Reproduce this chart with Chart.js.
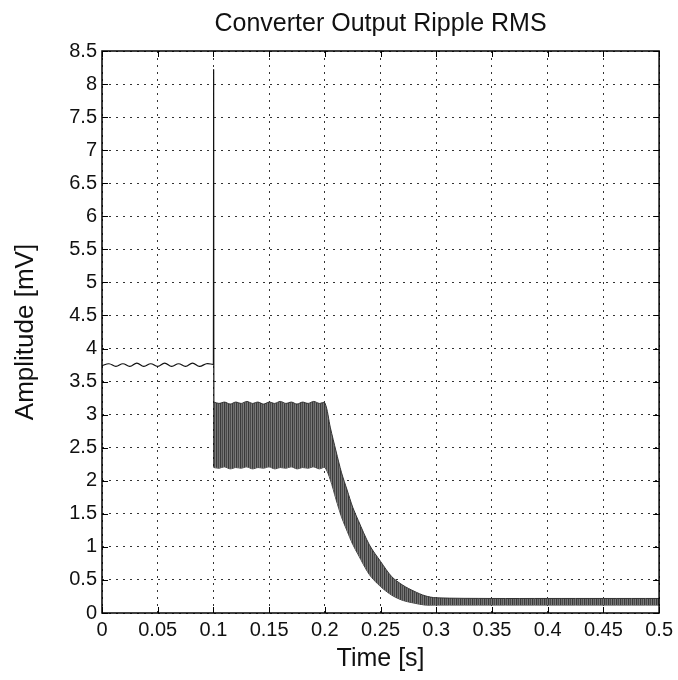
<!DOCTYPE html>
<html>
<head>
<meta charset="utf-8">
<script src="https://cdn.jsdelivr.net/npm/chart.js@4.4.1/dist/chart.umd.min.js"></script>
<style>
  body { margin: 0; background: #fff; }
  #wrap { width: 678px; height: 680px; }
</style>
</head>
<body>
<div id="wrap"><canvas id="chartId" width="678" height="680"></canvas></div>
<script>
// thin trace before the load step, plus the spike at t = 0.1 s
var traceT = [0, 0.00625, 0.0125, 0.01875, 0.025, 0.03125, 0.0375, 0.04375, 0.05, 0.05625,
              0.0625, 0.06875, 0.075, 0.08125, 0.0875, 0.09375, 0.0998, 0.1, 0.1002, 0.1004]
var traceV = [3.74, 3.77, 3.73, 3.77, 3.73, 3.78, 3.73, 3.77, 3.73, 3.78,
              3.73, 3.77, 3.73, 3.78, 3.73, 3.77, 3.76, 3.76, 8.2, 2.2]

// ripple band after the step (upper / lower envelope)
var bandT = [0.1004, 0.105, 0.11, 0.115, 0.12, 0.125, 0.13, 0.135, 0.14, 0.145, 0.15,
             0.155, 0.16, 0.165, 0.17, 0.175, 0.18, 0.185, 0.19, 0.195, 0.2,
             0.205, 0.21, 0.215, 0.22, 0.225, 0.23, 0.24, 0.25, 0.26, 0.27, 0.28, 0.29,
             0.3, 0.35, 0.4, 0.45, 0.5]
var bandUpper = [3.19, 3.17, 3.19, 3.16, 3.19, 3.17, 3.2, 3.17, 3.19, 3.16, 3.19,
                 3.17, 3.2, 3.17, 3.19, 3.16, 3.19, 3.17, 3.2, 3.17, 3.18,
                 2.8, 2.45, 2.12, 1.86, 1.6, 1.4, 1.03, 0.78, 0.55, 0.42, 0.33, 0.26,
                 0.23, 0.22, 0.22, 0.22, 0.22]
var bandLower = [2.2, 2.19, 2.21, 2.18, 2.2, 2.19, 2.21, 2.18, 2.2, 2.19, 2.21,
                 2.18, 2.2, 2.19, 2.21, 2.18, 2.2, 2.19, 2.21, 2.18, 2.2,
                 2.01, 1.72, 1.45, 1.24, 1.04, 0.88, 0.58, 0.4, 0.27, 0.19, 0.15, 0.12,
                 0.12, 0.12, 0.12, 0.12, 0.12]

var yTicks = [0, 0.5, 1, 1.5, 2, 2.5, 3, 3.5, 4, 4.5, 5, 5.5, 6, 6.5, 7, 7.5, 8, 8.5]
var xTicks = [0, 0.05, 0.1, 0.15, 0.2, 0.25, 0.3, 0.35, 0.4, 0.45, 0.5]

function pts(xs, ys) { return xs.map((x, i) => ({ x: x, y: ys[i] })) }

// vertical hatch for the dense ripple
var pc = document.createElement('canvas')
pc.width = 4; pc.height = 1
var pctx = pc.getContext('2d')
pctx.fillStyle = '#3a3a3a'; pctx.fillRect(0, 0, 1, 1)
pctx.fillStyle = '#6e6e6e'; pctx.fillRect(1, 0, 1, 1)
pctx.fillStyle = '#4a4a4a'; pctx.fillRect(2, 0, 1, 1)
pctx.fillStyle = '#7a7a7a'; pctx.fillRect(3, 0, 1, 1)
var chrt = document.getElementById("chartId").getContext("2d")
var hatch = chrt.createPattern(pc, 'repeat')

var FONT = "'Liberation Sans', Arial, Helvetica, sans-serif"

// matlab style box + inward ticks
var boxPlugin = {
  id: 'box',
  afterDraw(chart) {
    var a = chart.chartArea, c = chart.ctx
    var xs = chart.scales.x, ys = chart.scales.y
    c.save()
    c.strokeStyle = '#000'
    c.lineWidth = 1
    c.beginPath()
    xTicks.forEach(v => {
      var px = Math.round(xs.getPixelForValue(v)) + 0.5
      c.moveTo(px, a.bottom); c.lineTo(px, a.bottom - 6)
      c.moveTo(px, a.top); c.lineTo(px, a.top + 6)
    })
    yTicks.forEach(v => {
      var py = Math.round(ys.getPixelForValue(v)) + 0.5
      c.moveTo(a.left, py); c.lineTo(a.left + 6, py)
      c.moveTo(a.right, py); c.lineTo(a.right - 6, py)
    })
    c.stroke()
    c.lineWidth = 1.5
    c.strokeRect(a.left, a.top, a.right - a.left, a.bottom - a.top)
    c.restore()
  }
}

var chart = new Chart(chrt, {
  type: 'line',
  data: {
    datasets: [{
      label: 'upper',
      data: pts(bandT, bandUpper),
      borderColor: '#333',
      borderWidth: 1,
      backgroundColor: hatch,
      fill: '+1',
      pointRadius: 0,
      tension: 0.3
    }, {
      label: 'lower',
      data: pts(bandT, bandLower),
      borderColor: '#444',
      borderWidth: 1,
      fill: false,
      pointRadius: 0,
      tension: 0.3
    }, {
      label: 'ripple',
      data: pts(traceT, traceV),
      borderColor: '#111',
      borderWidth: 1.2,
      fill: false,
      pointRadius: 0,
      tension: 0.4
    }]
  },
  options: {
    responsive: false,
    animation: false,
    layout: { padding: { left: 0, right: 16, top: 0, bottom: 0 } },
    plugins: {
      legend: { display: false },
      tooltip: { enabled: false },
      title: {
        display: true,
        text: 'Converter Output Ripple RMS',
        fullSize: false,
        color: '#111',
        font: { family: FONT, size: 25, weight: 'normal' },
        padding: { top: 9, bottom: 12 }
      }
    },
    scales: {
      x: {
        type: 'linear',
        min: 0, max: 0.5,
        afterFit: s => { s.height = 67 },
        afterBuildTicks: s => { s.ticks = xTicks.map(v => ({ value: v })) },
        ticks: {
          autoSkip: false, maxRotation: 0, padding: 5, color: '#111',
          font: { family: FONT, size: 20 },
          callback: v => String(+v.toFixed(2))
        },
        grid: { color: '#333', lineWidth: 1, drawTicks: false },
        border: { display: false, dash: [2, 5] },
        title: {
          display: true, text: 'Time [s]', color: '#111',
          font: { family: FONT, size: 25 },
          padding: { top: 0, bottom: 6 }
        }
      },
      y: {
        type: 'linear',
        min: 0, max: 8.5,
        afterFit: s => { s.width = 102 },
        afterBuildTicks: s => { s.ticks = yTicks.map(v => ({ value: v })) },
        ticks: {
          autoSkip: false, padding: 5, color: '#111',
          font: { family: FONT, size: 20 },
          callback: v => String(+v.toFixed(2))
        },
        grid: { color: '#333', lineWidth: 1, drawTicks: false },
        border: { display: false, dash: [2, 5] },
        title: {
          display: true, text: 'Amplitude [mV]', color: '#111',
          font: { family: FONT, size: 26 },
          padding: { top: 10, bottom: 0 }
        }
      }
    }
  },
  plugins: [boxPlugin]
})
</script>
</body>
</html>
